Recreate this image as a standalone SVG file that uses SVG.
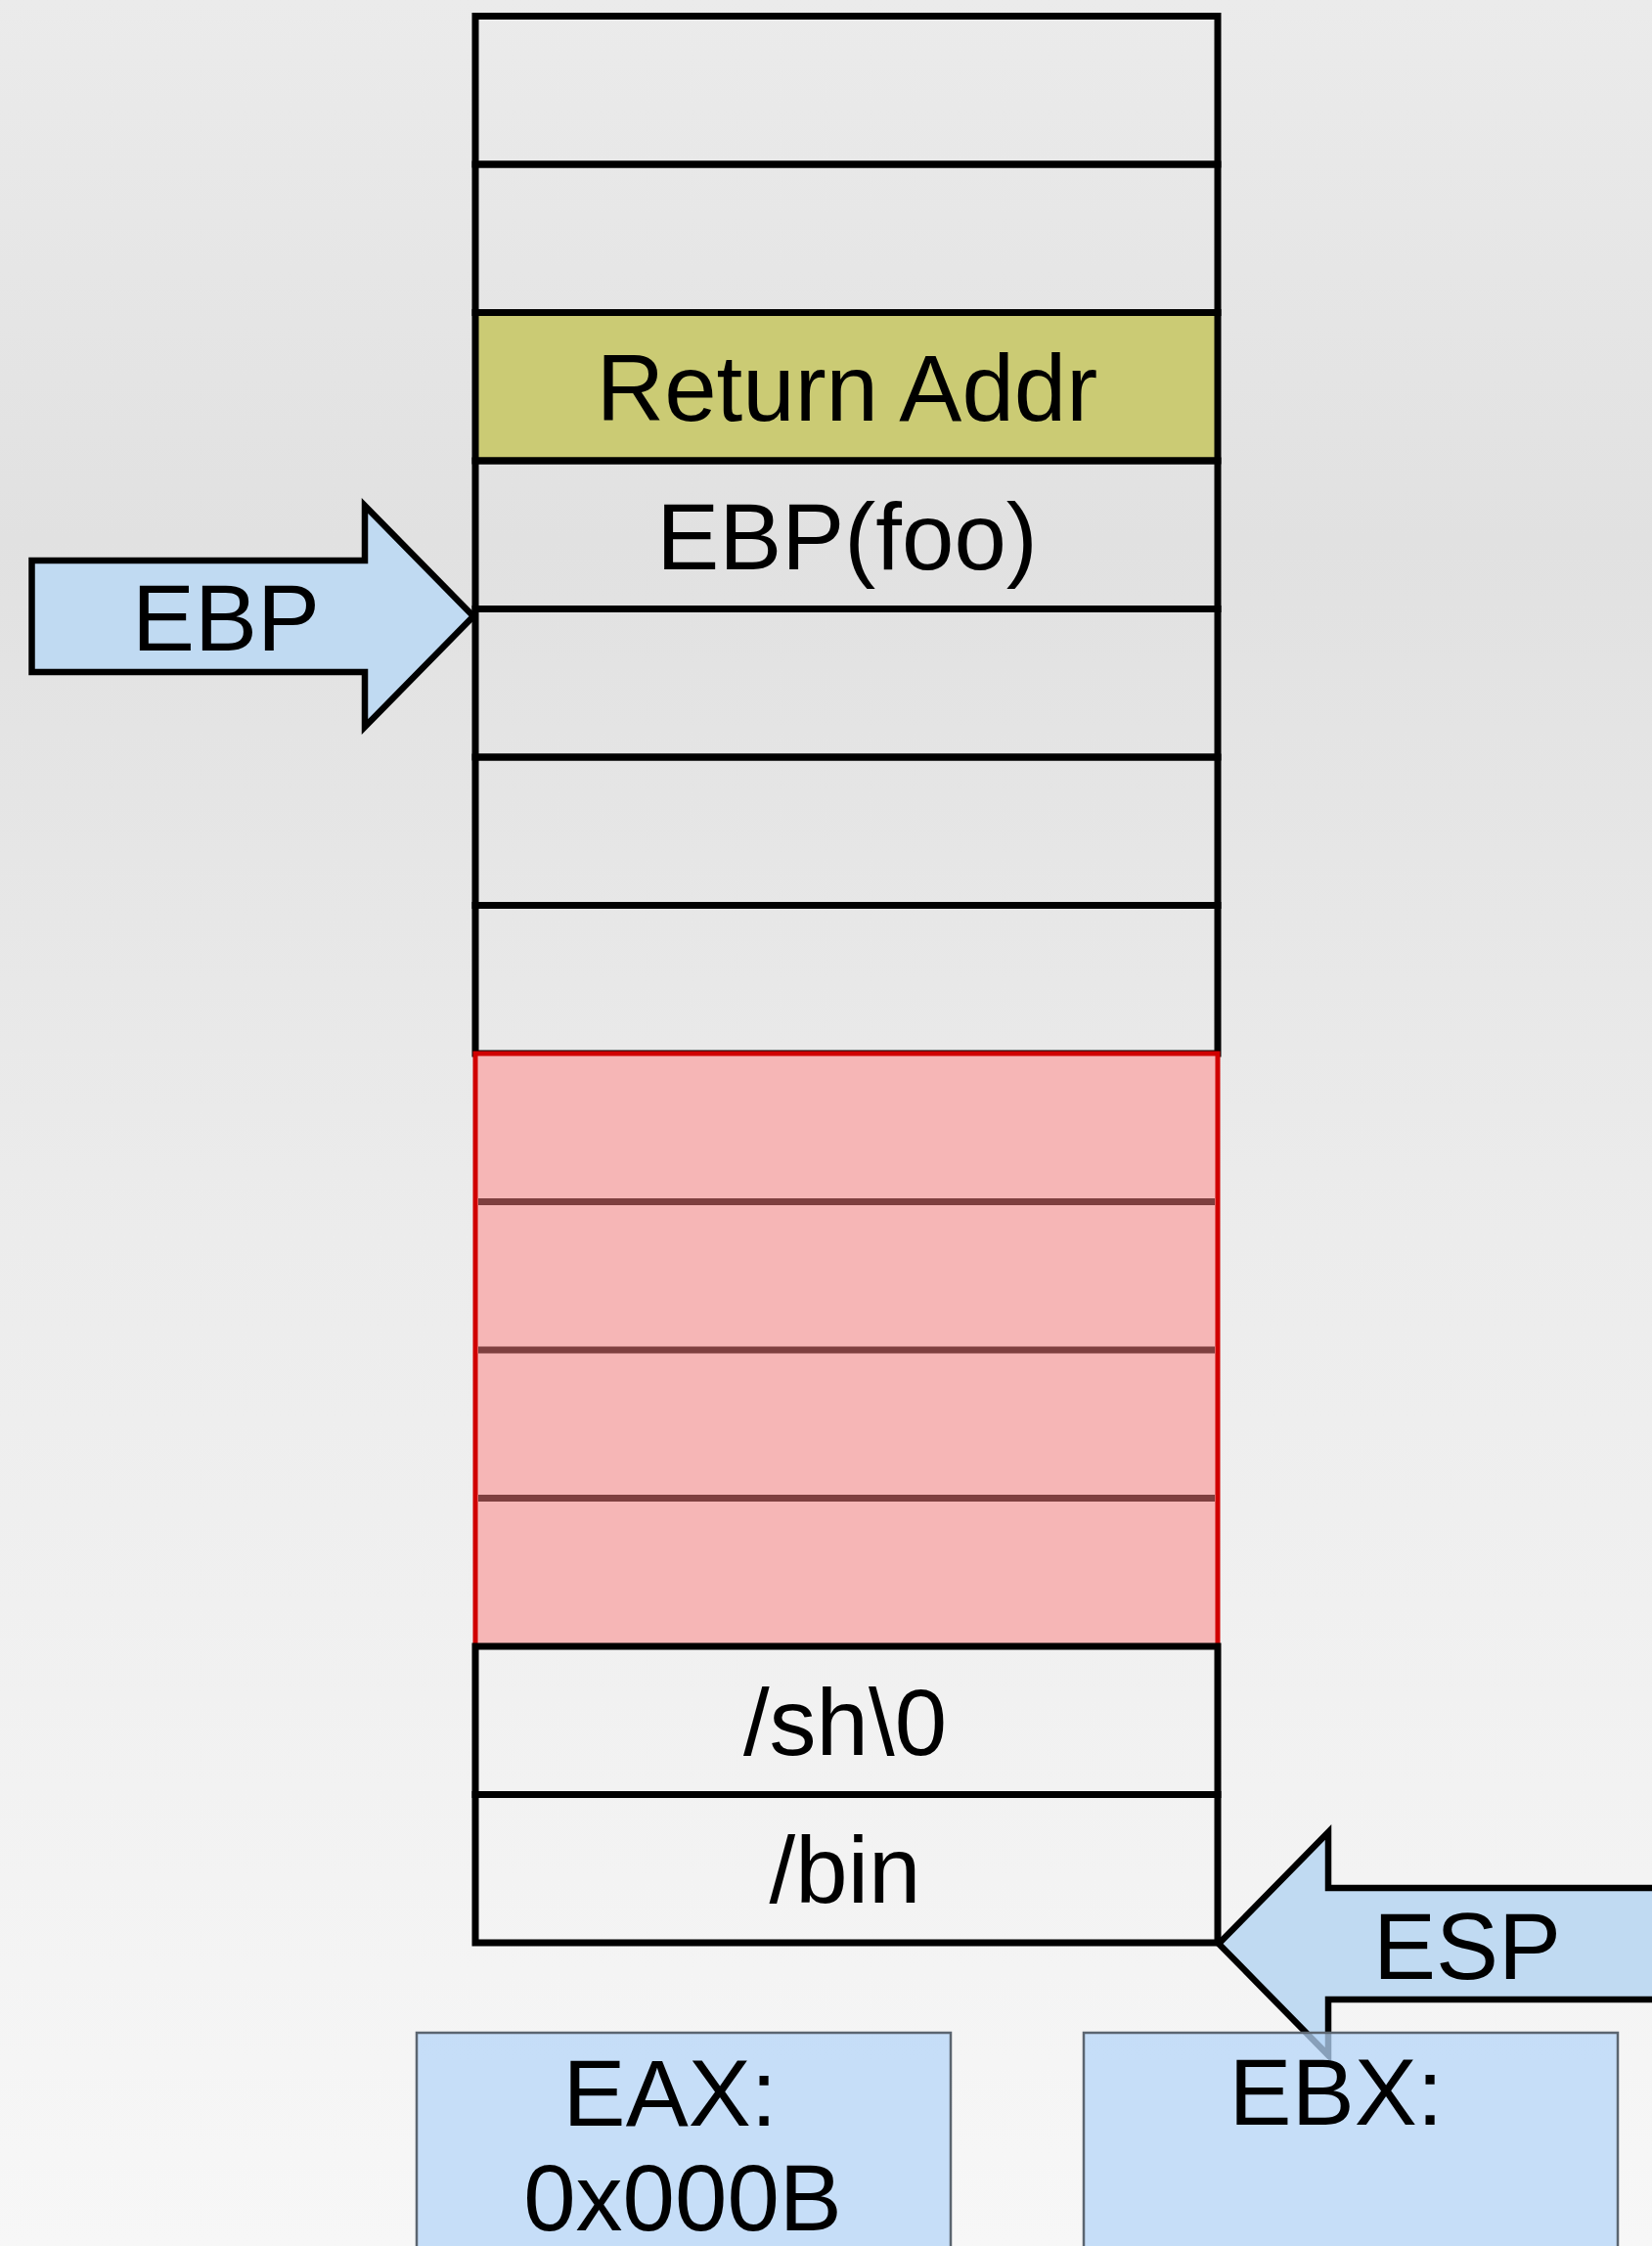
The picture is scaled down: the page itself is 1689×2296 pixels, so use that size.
<svg xmlns="http://www.w3.org/2000/svg" width="1689" height="2296" viewBox="0 0 1689 2296">
  <defs>
    <linearGradient id="bg" x1="0" y1="0" x2="0" y2="1">
      <stop offset="0" stop-color="#ebebeb"/>
      <stop offset="0.24" stop-color="#e1e1e1"/>
      <stop offset="0.55" stop-color="#ececec"/>
      <stop offset="1" stop-color="#f7f7f7"/>
    </linearGradient>
  </defs>
  <style>
    .cell { fill: none; stroke: #000; stroke-width: 7; }
    .lbl { font-family: "Liberation Sans", Arial, sans-serif; font-size: 96px; fill: #000; text-anchor: middle; }
    .ptr { fill: #c0daf2; stroke: #000; stroke-width: 6.5; stroke-linejoin: miter; }
    .reg { fill: #b5d6f8; fill-opacity: 0.75; stroke: #5b6570; stroke-width: 2.5; }
    .pinkdiv { stroke: #7e3f3f; stroke-width: 7; }
  </style>
  <rect x="0" y="0" width="1689" height="2296" fill="url(#bg)"/>

  <g id="stack">
    <g id="row0"><rect class="cell" x="486" y="16.5" width="759" height="151.5"/></g>
    <g id="row1"><rect class="cell" x="486" y="168" width="759" height="151.5"/></g>
    <g id="row-return-addr">
      <rect class="cell" x="486" y="319.5" width="759" height="151.5" style="fill:#cbcb74"/>
      <text class="lbl" x="866" y="430">Return Addr</text>
    </g>
    <g id="row-ebp-foo">
      <rect class="cell" x="486" y="471" width="759" height="151.5"/>
      <text class="lbl" x="866" y="582">EBP(foo)</text>
    </g>
    <g id="row4"><rect class="cell" x="486" y="622.5" width="759" height="151.5"/></g>
    <g id="row5"><rect class="cell" x="486" y="774" width="759" height="151.5"/></g>
    <g id="row6"><rect class="cell" x="486" y="925.5" width="759" height="151.5"/></g>
    <g id="buffer">
      <rect x="486" y="1077" width="759" height="606" fill="#f6b6b6" stroke="#d00000" stroke-width="5"/>
      <line class="pinkdiv" x1="489" y1="1228.5" x2="1242" y2="1228.5"/>
      <line class="pinkdiv" x1="489" y1="1380" x2="1242" y2="1380"/>
      <line class="pinkdiv" x1="489" y1="1531.5" x2="1242" y2="1531.5"/>
    </g>
    <g id="row-sh">
      <rect class="cell" x="486" y="1683" width="759" height="151.5"/>
      <text class="lbl" x="864" y="1794">/sh\0</text>
    </g>
    <g id="row-bin">
      <rect class="cell" x="486" y="1834.5" width="759" height="151.5"/>
      <text class="lbl" x="864" y="1945">/bin</text>
    </g>
  </g>

  <g id="connectors">
    <g id="ebp-pointer">
      <polygon class="ptr" points="32.5,573 373,573 373,517 484,630 373,743 373,687 32.5,687"/>
      <text class="lbl" x="231" y="665">EBP</text>
    </g>
    <g id="esp-pointer">
      <polygon class="ptr" points="1246,1987 1358,1873 1358,1930 1700,1930 1700,2044 1358,2044 1358,2101"/>
      <text class="lbl" x="1500" y="2023">ESP</text>
    </g>
  </g>

  <g id="eax">
    <rect class="reg" x="426" y="2078" width="546" height="240"/>
    <text class="lbl" x="685" y="2173">EAX:</text>
    <text class="lbl" x="698" y="2280">0x000B</text>
  </g>
  <g id="ebx">
    <rect class="reg" x="1108" y="2078" width="546" height="240"/>
    <text class="lbl" x="1366" y="2172">EBX:</text>
  </g>
</svg>
